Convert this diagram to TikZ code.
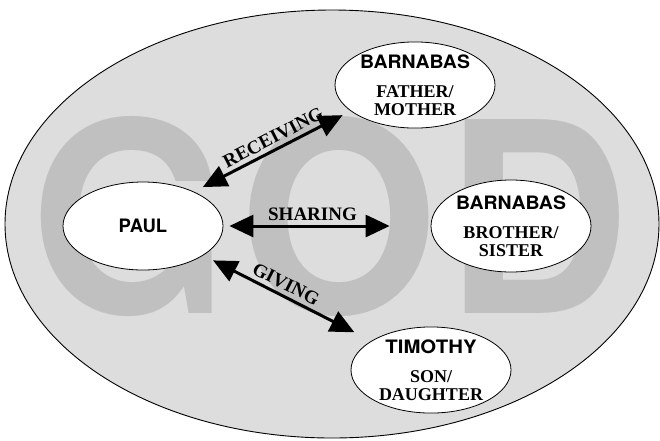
\documentclass[tikz,border=0pt]{standalone}
\usepackage{fontspec}
\setmainfont{Liberation Serif}
\setsansfont{TeX Gyre Heros}
\usepackage{graphicx}
\usetikzlibrary{shapes.geometric,arrows.meta}
\definecolor{bggray}{RGB}{221,221,221}
\definecolor{godgray}{RGB}{192,192,192}
\newcommand\personname[2]{{\sffamily\bfseries\fontsize{18.5}{17.5}\selectfont\scalebox{#1}[1]{#2}}}
\begin{document}
\begin{tikzpicture}[x=1pt,y=-1pt,
  outer/.style={draw=black, line width=0.9pt, fill=bggray, ellipse, inner sep=0pt,
    minimum width=654pt, minimum height=428pt},
  godletter/.style={anchor=base, inner sep=0pt, text=godgray, xscale=0.96,
    font=\sffamily\bfseries\fontsize{266}{266}\selectfont},
  person/.style={draw=black, line width=0.8pt, fill=white, ellipse, inner sep=0pt,
    minimum width=160pt, minimum height=#1, align=center,
    font=\rmfamily\bfseries\fontsize{18}{17.5}\selectfont},
  biarrow/.style={{Triangle[length=24pt,width=22pt]}-{Triangle[length=24pt,width=22pt]},
    line width=3pt},
  lab/.style={font=\rmfamily\bfseries\fontsize{19}{19}\selectfont, sloped, above,
    inner sep=5.5pt, outer sep=0pt}
]
\useasboundingbox (0,0) rectangle (660,440);
\node[outer] (god) at (332,224) {};
\node[godletter] (gG) at (130,313) {G};
\node[godletter] (gO) at (339,313) {O};
\node[godletter] (gD) at (538,313) {D};

\node[person=88pt] (paul) at (143,226) {\personname{1}{PAUL}};
\node[person=84pt] (barn1) at (415,85) {\personname{1.05}{BARNABAS}\\[12pt]FATHER/\\MOTHER};
\node[person=92pt] (barn2) at (511,226) {\personname{1.05}{BARNABAS}\\[12pt]BROTHER/\\SISTER};
\node[person=84pt] (tim) at (431,370) {\personname{1.1}{TIMOTHY}\\[12pt]SON/\\DAUGHTER};

\draw[biarrow, shorten <=10pt, shorten >=9pt] (paul.34) -- node[lab, pos=0.54] {RECEIVING} (barn1.202);
\draw[biarrow, shorten <=6pt, shorten >=41pt] (paul.east) -- node[lab, pos=0.43] {SHARING} (barn2.west);
\draw[biarrow, shorten <=11pt, shorten >=19pt] (paul.-26) -- node[lab, pos=0.46] {GIVING} (tim.154);
\end{tikzpicture}
\end{document}
